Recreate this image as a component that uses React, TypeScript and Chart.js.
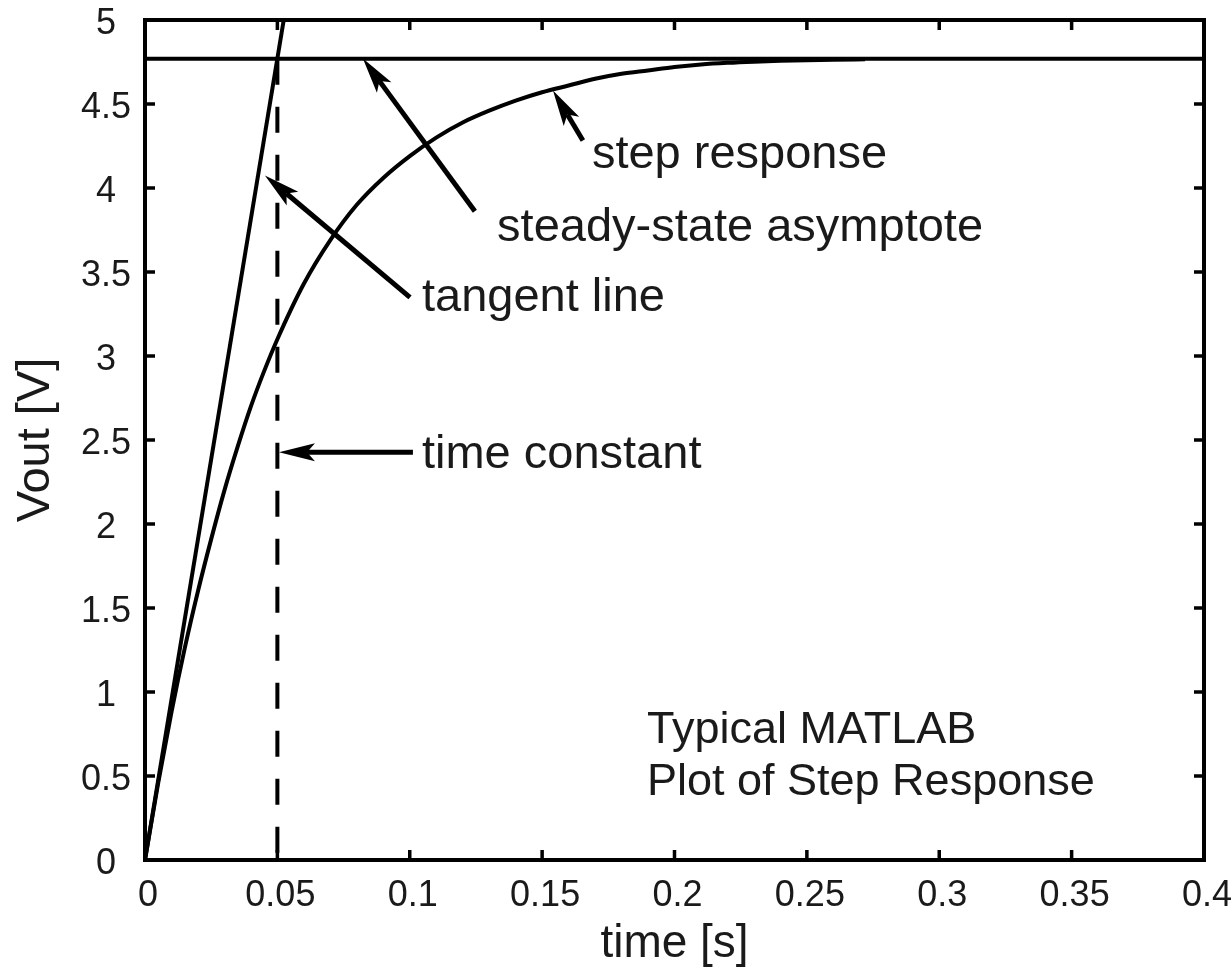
import React, { useEffect, useRef } from 'react';
import { Chart, registerables } from 'chart.js';

Chart.register(...registerables);

// ---- data ----
const timeValues = [0, 0.005, 0.01, 0.015, 0.02, 0.025, 0.03, 0.035, 0.04, 0.045, 0.05, 0.06, 0.07, 0.08, 0.09, 0.1, 0.11, 0.12, 0.13, 0.14, 0.15, 0.16, 0.17, 0.18, 0.19, 0.2, 0.21, 0.22, 0.23, 0.24, 0.25, 0.26, 0.272];
const stepResponse = [0, 0.46, 0.88, 1.26, 1.6, 1.91, 2.2, 2.46, 2.7, 2.91, 3.1, 3.43, 3.69, 3.9, 4.06, 4.19, 4.3, 4.39, 4.46, 4.52, 4.57, 4.61, 4.65, 4.68, 4.7, 4.72, 4.735, 4.745, 4.752, 4.757, 4.761, 4.764, 4.766];

const tangentTime = [0, 0.0524];
const tangentVolts = [0, 5];

const asymptoteTime = [0, 0.4];
const asymptoteVolts = [4.77, 4.77];

const timeConstantTime = [0.05, 0.05];
const timeConstantVolts = [4.77, 0];

const xTickValues = [0, 0.05, 0.1, 0.15, 0.2, 0.25, 0.3, 0.35, 0.4];
const xTickLabels = ['0', '0.05', '0.1', '0.15', '0.2', '0.25', '0.3', '0.35', '0.4'];
const yTickValues = [0, 0.5, 1, 1.5, 2, 2.5, 3, 3.5, 4, 4.5, 5];
const yTickLabels = ['0', '0.5', '1', '1.5', '2', '2.5', '3', '3.5', '4', '4.5', '5'];

// annotation arrows (tail -> tip) and their labels, in data coordinates
const arrowLabels = ['step response', 'steady-state asymptote', 'tangent line', 'time constant'];
const arrowTailT = [0.1654, 0.1246, 0.1001, 0.1012];
const arrowTailV = [4.283, 3.861, 3.349, 2.427];
const arrowTipT = [0.1541, 0.0823, 0.0453, 0.0506];
const arrowTipV = [4.581, 4.771, 4.075, 2.427];
const labelT = [0.1688, 0.133, 0.1046, 0.1046];
const labelV = [4.117, 3.682, 3.266, 2.332];

const noteLines = ['Typical MATLAB', 'Plot of Step Response'];
const noteT = [0.1896, 0.1896];
const noteV = [0.696, 0.387];

const FONT = '"Liberation Sans", Arial, Helvetica, sans-serif';
const INK = '#1a1a1a';

function drawArrow(ctx: CanvasRenderingContext2D, x0: number, y0: number, x1: number, y1: number) {
  const dx = x1 - x0;
  const dy = y1 - y0;
  const len = Math.hypot(dx, dy);
  const ux = dx / len;
  const uy = dy / len;
  const nx = -uy;
  const ny = ux;
  const L = 36;
  const W = 9;
  const notch = 0.78 * L;
  ctx.lineWidth = 5;
  ctx.lineCap = 'butt';
  ctx.beginPath();
  ctx.moveTo(x0, y0);
  ctx.lineTo(x1 - ux * notch, y1 - uy * notch);
  ctx.stroke();
  ctx.beginPath();
  ctx.moveTo(x1, y1);
  ctx.lineTo(x1 - ux * L + nx * W, y1 - uy * L + ny * W);
  ctx.lineTo(x1 - ux * notch, y1 - uy * notch);
  ctx.lineTo(x1 - ux * L - nx * W, y1 - uy * L - ny * W);
  ctx.closePath();
  ctx.fill();
}

const matlabDecor = {
  id: 'matlabDecor',
  beforeDraw(chart: any) {
    const { ctx, width, height } = chart;
    ctx.save();
    ctx.fillStyle = '#ffffff';
    ctx.fillRect(0, 0, width, height);
    ctx.restore();
  },
  afterDatasetsDraw(chart: any) {
    const { ctx, chartArea: a, scales } = chart;
    const x = scales.x;
    const y = scales.y;
    ctx.save();
    ctx.strokeStyle = '#000';
    ctx.fillStyle = '#000';
    for (let i = 0; i < arrowLabels.length; i++) {
      drawArrow(
        ctx,
        x.getPixelForValue(arrowTailT[i]),
        y.getPixelForValue(arrowTailV[i]),
        x.getPixelForValue(arrowTipT[i]),
        y.getPixelForValue(arrowTipV[i])
      );
    }
    ctx.fillStyle = INK;
    ctx.textAlign = 'left';
    ctx.textBaseline = 'alphabetic';
    ctx.font = `47px ${FONT}`;
    for (let i = 0; i < arrowLabels.length; i++) {
      ctx.fillText(arrowLabels[i], x.getPixelForValue(labelT[i]), y.getPixelForValue(labelV[i]));
    }
    ctx.font = `45px ${FONT}`;
    for (let i = 0; i < noteLines.length; i++) {
      ctx.fillText(noteLines[i], x.getPixelForValue(noteT[i]), y.getPixelForValue(noteV[i]));
    }
    // box
    ctx.strokeStyle = '#000';
    ctx.lineWidth = 4;
    ctx.lineCap = 'square';
    ctx.strokeRect(a.left, a.top, a.right - a.left, a.bottom - a.top);
    // inward ticks on all four sides
    ctx.lineWidth = 3.5;
    ctx.lineCap = 'butt';
    const TL = 10;
    ctx.beginPath();
    for (const v of xTickValues) {
      const px = x.getPixelForValue(v);
      ctx.moveTo(px, a.bottom);
      ctx.lineTo(px, a.bottom - TL);
      ctx.moveTo(px, a.top);
      ctx.lineTo(px, a.top + TL);
    }
    for (const v of yTickValues) {
      const py = y.getPixelForValue(v);
      ctx.moveTo(a.left, py);
      ctx.lineTo(a.left + TL, py);
      ctx.moveTo(a.right, py);
      ctx.lineTo(a.right - TL, py);
    }
    ctx.stroke();
    ctx.restore();
  },
};

export default function App() {
  const canvasRef = useRef<HTMLCanvasElement | null>(null);

  useEffect(() => {
    const canvas = canvasRef.current;
    if (!canvas) return;
    const pts = (xs: number[], ys: number[]) => xs.map((t, i) => ({ x: t, y: ys[i] }));
    const chart = new Chart(canvas, {
      type: 'line',
      data: {
        datasets: [
          {
            label: 'step response',
            data: pts(timeValues, stepResponse),
            borderColor: '#000',
            borderWidth: 4,
            pointRadius: 0,
            cubicInterpolationMode: 'monotone',
            fill: false,
          },
          {
            label: 'tangent line',
            data: pts(tangentTime, tangentVolts),
            borderColor: '#000',
            borderWidth: 4,
            pointRadius: 0,
            fill: false,
          },
          {
            label: 'steady-state asymptote',
            data: pts(asymptoteTime, asymptoteVolts),
            borderColor: '#000',
            borderWidth: 4,
            pointRadius: 0,
            fill: false,
          },
          {
            label: 'time constant',
            data: pts(timeConstantTime, timeConstantVolts),
            borderColor: '#000',
            borderWidth: 4,
            borderDash: [26, 22],
            pointRadius: 0,
            fill: false,
          },
        ],
      } as any,
      options: {
        animation: false,
        responsive: false,
        devicePixelRatio: 1,
        layout: { padding: { top: 20, right: 28, left: 0, bottom: 0 } },
        plugins: {
          legend: { display: false },
          tooltip: { enabled: false },
        },
        scales: {
          x: {
            type: 'linear',
            min: 0,
            max: 0.4,
            grid: { display: false, drawTicks: false },
            border: { display: false },
            afterBuildTicks: (s: any) => {
              s.ticks = xTickValues.map((v) => ({ value: v }));
            },
            afterFit: (s: any) => {
              s.height = 108;
              s.paddingLeft = 0;
              s.paddingRight = 0;
            },
            ticks: {
              callback: (_v: any, i: number) => xTickLabels[i],
              font: { family: FONT, size: 36 },
              color: INK,
              padding: 14,
              labelOffset: 3,
              maxRotation: 0,
              autoSkip: false,
            },
            title: {
              display: true,
              text: 'time [s]',
              font: { family: FONT, size: 46, lineHeight: 1 },
              color: INK,
              padding: { top: 0, bottom: 1 },
            },
          },
          y: {
            type: 'linear',
            min: 0,
            max: 5,
            grid: { display: false, drawTicks: false },
            border: { display: false },
            afterBuildTicks: (s: any) => {
              s.ticks = yTickValues.map((v) => ({ value: v }));
            },
            afterFit: (s: any) => {
              s.width = 145;
              s.paddingTop = 0;
              s.paddingBottom = 0;
            },
            ticks: {
              callback: (_v: any, i: number) => yTickLabels[i],
              font: { family: FONT, size: 36 },
              color: INK,
              padding: 14,
              crossAlign: 'center',
              labelOffset: 4,
              autoSkip: false,
            },
            title: {
              display: true,
              text: 'Vout [V]',
              font: { family: FONT, size: 47 },
              color: INK,
              padding: { top: 7.5, bottom: 0 },
            },
          },
        },
      } as any,
      plugins: [matlabDecor],
    });
    return () => chart.destroy();
  }, []);

  return (
    <div style={{ position: 'fixed', left: 0, top: 0, width: 1232, height: 968, background: '#fff' }}>
      <canvas ref={canvasRef} width={1232} height={968} style={{ display: 'block', width: 1232, height: 968 }} />
    </div>
  );
}
